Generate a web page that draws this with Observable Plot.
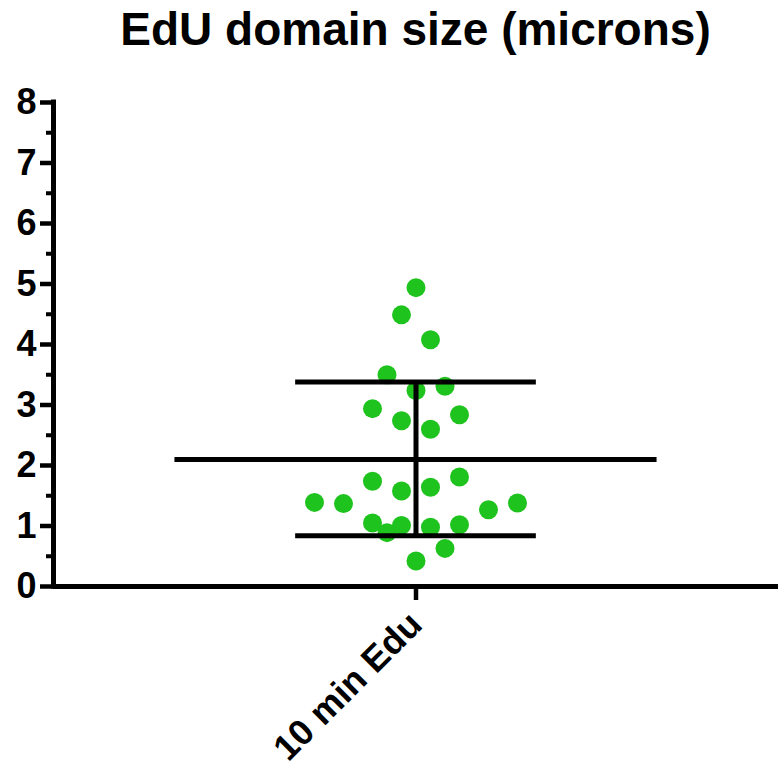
<!DOCTYPE html>
<html>
<head>
<meta charset="utf-8">
<script src="https://cdn.jsdelivr.net/npm/d3@7"></script>
<script src="https://cdn.jsdelivr.net/npm/@observablehq/plot@0.6"></script>
<style>
  html, body { margin: 0; padding: 0; background: #fff; }
  #title {
    width: 778px; box-sizing: border-box; padding-left: 53px; height: 80px;
    text-align: center; font-family: "Liberation Sans", Arial, sans-serif;
    font-weight: bold; font-size: 46px; line-height: 1; padding-top: 6px; color: #000;
  }
  g[aria-label="y-axis tick label"] { font-size: 36px; font-weight: bold; }
  g[aria-label="x-axis tick label"] { font-size: 36px; font-weight: bold; }
</style>
</head>
<body>
<div id="title">EdU domain size (microns)</div>
<div id="chart"></div>
<script>
// Category
const category = "10 min Edu";
const values = [4.94, 4.49, 4.08, 3.50, 3.24, 3.31, 2.94, 2.74, 2.84, 2.60,
                1.74, 1.58, 1.64, 1.81, 1.39, 1.37, 1.27, 1.38,
                1.05, 0.89, 1.01, 0.98, 1.02, 0.63, 0.42];
// Horizontal scatter slot of each point (beeswarm spread, in dot slots)
const slots = [0, -1, 1, -2, 0, 2, -3, -1, 3, 1,
               -3, -1, 1, 3, -7, -5, 5, 7,
               -3, -2, -1, 1, 3, 2, 0];
// Summary lines: mean and mean ± SD
const meanValue = 2.10;
const sdUpper = 3.38;
const sdLower = 0.84;
const yTicks = [0, 1, 2, 3, 4, 5, 6, 7, 8];
const yMinorTicks = [0.5, 1.5, 2.5, 3.5, 4.5, 5.5, 6.5, 7.5];

const slotWidth = 0.04;
const points = values.map((v, i) => ({x: slots[i] * slotWidth, y: v}));

const font = '"Liberation Sans", Arial, sans-serif';
const plot = Plot.plot({
  width: 778,
  height: 688,
  marginTop: 22,
  marginBottom: 182,
  marginLeft: 53,
  marginRight: 0,
  style: {fontFamily: font, color: "#000", background: "#fff"},
  x: {domain: [-1, 1], axis: null},
  y: {domain: [0, 8], axis: null},
  marks: [
    Plot.dot(points, {x: "x", y: "y", r: 9.5, fill: "#1ec31e", stroke: "none"}),
    Plot.ruleY([meanValue], {x1: -0.665, x2: 0.665, stroke: "#000", strokeWidth: 5}),
    Plot.ruleY([sdUpper, sdLower], {x1: -0.332, x2: 0.332, stroke: "#000", strokeWidth: 5}),
    Plot.ruleX([0], {y1: sdLower, y2: sdUpper, stroke: "#000", strokeWidth: 5}),
    Plot.ruleX([-1], {y1: 0, y2: 8, stroke: "#000", strokeWidth: 5, strokeLinecap: "square"}),
    Plot.ruleY([0], {x1: -1, x2: 1, stroke: "#000", strokeWidth: 5}),
    Plot.axisY({ticks: yTicks, tickSize: 13, tickPadding: 4, strokeWidth: 4.5,
      fontSize: 36, fontWeight: "bold", tickFormat: d3.format("d"), label: null}),
    Plot.axisY({ticks: yMinorTicks, tickSize: 7, strokeWidth: 4, text: null, label: null}),
    Plot.axisX({ticks: [0], tickSize: 14, strokeWidth: 4.5, tickFormat: () => category,
      tickRotate: -45, fontSize: 36, fontWeight: "bold", tickPadding: 18, label: null})
  ]
});
document.getElementById("chart").appendChild(plot);
</script>
</body>
</html>
